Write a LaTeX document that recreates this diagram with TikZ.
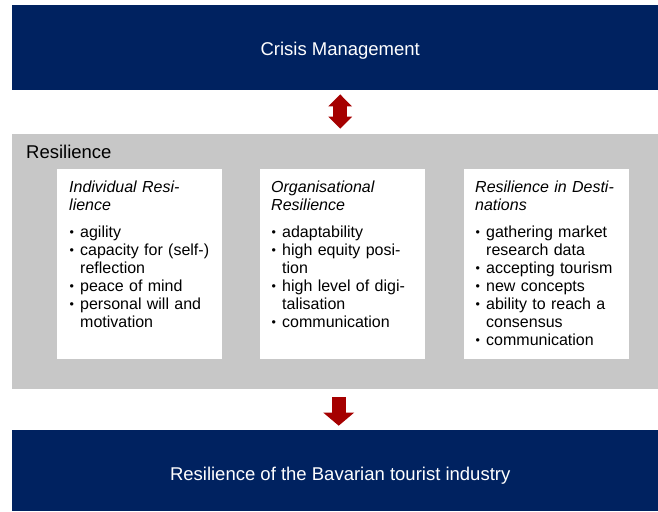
\documentclass[tikz,border=0pt]{standalone}
\usepackage{fontspec}
\setmainfont{Liberation Sans}
\usepackage{xcolor}
\usetikzlibrary{calc}
\usetikzlibrary{arrows.meta}
\definecolor{navy}{HTML}{002260}
\definecolor{arrowred}{HTML}{A50000}
\definecolor{panelgray}{HTML}{C7C7C7}
\tikzset{>=latex}
\tikzset{
  banner/.style={fill=navy,text=white,minimum width=656pt,inner sep=0pt,anchor=north west,font=\fontsize{18.5}{22}\selectfont},
  panel/.style={fill=panelgray,minimum width=656pt,minimum height=255pt,inner sep=0pt,anchor=north west},
  pillar/.style={fill=white,minimum width=165pt,minimum height=190pt,inner sep=0pt,anchor=north west},
  pillartext/.style={anchor=base west,inner sep=0pt,text width=150pt,align=left,font=\fontsize{16}{18}\selectfont},
  fatlink/.style={draw=arrowred,line width=14pt},
}
\newcommand{\itemdot}{\makebox[11pt][l]{\hspace{0.5pt}\raisebox{1pt}{\fontsize{12.5}{12}\selectfont •}}}
\newcommand{\itemgap}{\hspace*{11pt}}

\begin{document}
\begin{tikzpicture}[x=1pt,y=1pt]

  % page frame
  \useasboundingbox (0,0) rectangle (658,-511);
  \clip (0,0) rectangle (658,-511);

  % variables
  \def\gap{9pt}
  \def\top{-169}

  % crisis management
  \node[banner,minimum height=85pt,text height=15pt,text depth=0pt]
    (crisis) at (12,-5) {Crisis Management};

  % resilience panel
  \node[panel] (resil) at (12,-134) {};
  \node[anchor=base west,inner sep=0pt,font=\fontsize{18.5}{22}\selectfont]
    (resiltitle) at ([xshift=14pt,yshift=-24.7pt]resil.north west) {Resilience};

  % individual
  \node[pillar] (indiv) at (57,\top) {};
  \node[pillartext] (indivtext) at ([xshift=12pt,yshift=-23pt]indiv.north west) {%
    \textit{Individual Resi-}\\
    \textit{lience}\\[\gap]
    \itemdot agility\\
    \itemdot capacity for (self-)\\
    \itemgap reflection\\
    \itemdot peace of mind\\
    \itemdot personal will and\\
    \itemgap motivation};

  % organisational
  \node[pillar] (organ) at (260,\top) {};
  \node[pillartext] (organtext) at ([xshift=11pt,yshift=-23pt]organ.north west) {%
    \textit{Organisational}\\
    \textit{Resilience}\\[\gap]
    \itemdot adaptability\\
    \itemdot high equity posi-\\
    \itemgap tion\\
    \itemdot high level of digi-\\
    \itemgap talisation\\
    \itemdot communication};

  % destinations
  \node[pillar] (destin) at (464,\top) {};
  \node[pillartext] (destintext) at ([xshift=11pt,yshift=-23pt]destin.north west) {%
    \textit{Resilience in Desti-}\\
    \textit{nations}\\[\gap]
    \itemdot gathering market\\
    \itemgap research data\\
    \itemdot accepting tourism\\
    \itemdot new concepts\\
    \itemdot ability to reach a\\
    \itemgap consensus\\
    \itemdot communication};

  % bavarian tourist industry
  \node[banner,minimum height=81pt,text height=20pt,text depth=0pt]
    (bavaria) at (12,-430) {Resilience of the Bavarian tourist industry};

  % arrows
  \draw[fatlink,{Triangle[length=12pt,width=23pt]}-{Triangle[length=12pt,width=23pt]}]
    ([yshift=-4pt]crisis.south) -- ([yshift=5.3pt]resil.north);
  \draw[fatlink,-{Triangle[length=13pt,width=30pt]}]
    ([xshift=-1.5pt,yshift=-7.7pt]resil.south) -- ([xshift=-1.5pt,yshift=4.3pt]bavaria.north);

\end{tikzpicture}
\end{document}
